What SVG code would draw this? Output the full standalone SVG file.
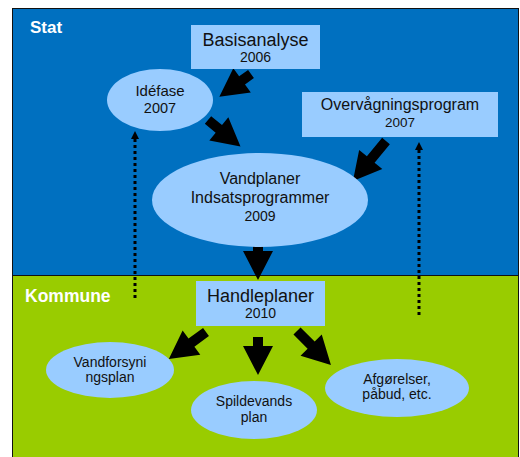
<svg xmlns="http://www.w3.org/2000/svg" width="520" height="457" viewBox="0 0 520 457">
<style>
.lb{fill:#99CCFF;stroke:none}
.t{font-family:"Liberation Sans",Arial,sans-serif;fill:#111;text-anchor:middle}
.lab{font-family:"Liberation Sans",Arial,sans-serif;fill:#fff;font-weight:bold}
.blk{fill:#000}
.dot{stroke:#000;stroke-width:3;stroke-dasharray:3 3;fill:none}
</style>
<rect width="520" height="457" fill="#fff"/>
<g id="regions">
<rect x="12.5" y="8.5" width="506" height="267" fill="#0070C0" stroke="#111" stroke-width="1"/>
<rect x="12.5" y="275.5" width="506" height="190" fill="#99CC00" stroke="#111" stroke-width="1"/>
<text class="lab" x="30" y="33" font-size="17">Stat</text>
<text class="lab" x="25" y="302" font-size="17.5">Kommune</text>
</g>
<g id="connectors">
<polygon class="blk" transform="translate(251,74) rotate(144.3)" points="0,-5 11,-5 11,-15 39,0 11,15 11,5 0,5"/>
<polygon class="blk" transform="translate(208,120) rotate(39.3)" points="0,-5 14,-5 14,-15 42,0 14,15 14,5 0,5"/>
<polygon class="blk" transform="translate(386,141) rotate(129.5)" points="0,-5 24,-5 24,-15 52,0 24,15 24,5 0,5"/>
<polygon class="blk" transform="translate(258,237) rotate(90)" points="0,-5 14,-5 14,-15 43,0 14,15 14,5 0,5"/>
<polygon class="blk" transform="translate(206,332) rotate(143.9)" points="0,-5 18,-5 18,-15 46,0 18,15 18,5 0,5"/>
<polygon class="blk" transform="translate(258,337) rotate(90)" points="0,-5 9,-5 9,-15 38,0 9,15 9,5 0,5"/>
<polygon class="blk" transform="translate(297,331) rotate(45)" points="0,-5 20,-5 20,-15 48,0 20,15 20,5 0,5"/>
<line class="dot" x1="135" y1="298" x2="135" y2="138"/>
<polygon class="blk" points="135,131 131,139 139,139"/>
<line class="dot" x1="419" y1="315" x2="419" y2="149"/>
<polygon class="blk" points="419,142 415,150 423,150"/>
</g>
<g id="basisanalyse">
<rect class="lb" x="191" y="25" width="129" height="44"/>
<text class="t" x="255.5" y="46" font-size="18">Basisanalyse</text>
<text class="t" x="255.5" y="62" font-size="14">2006</text>
</g>
<g id="idefase">
<ellipse class="lb" cx="160" cy="100" rx="53" ry="31"/>
<text class="t" x="160" y="96" font-size="15">Idéfase</text>
<text class="t" x="160" y="113" font-size="14.5">2007</text>
</g>
<g id="overvaagning">
<rect class="lb" x="302" y="92" width="196" height="45"/>
<text class="t" x="400" y="110" font-size="16">Overvågningsprogram</text>
<text class="t" x="400" y="127" font-size="13.5">2007</text>
</g>
<g id="vandplaner">
<ellipse class="lb" cx="260" cy="200" rx="108" ry="47"/>
<text class="t" x="260" y="184" font-size="16">Vandplaner</text>
<text class="t" x="260" y="203" font-size="16">Indsatsprogrammer</text>
<text class="t" x="260" y="221" font-size="14">2009</text>
</g>
<g id="handleplaner">
<rect class="lb" x="196" y="281" width="129" height="45"/>
<text class="t" x="260.5" y="302" font-size="18">Handleplaner</text>
<text class="t" x="260.5" y="318" font-size="14">2010</text>
</g>
<g id="vandforsyning">
<ellipse class="lb" cx="110" cy="370" rx="64" ry="28"/>
<text class="t" x="110" y="367" font-size="14">Vandforsyni</text>
<text class="t" x="110" y="382" font-size="14">ngsplan</text>
</g>
<g id="spildevand">
<ellipse class="lb" cx="254" cy="410" rx="63" ry="29"/>
<text class="t" x="254" y="406" font-size="14">Spildevands</text>
<text class="t" x="254" y="422" font-size="14">plan</text>
</g>
<g id="afgoerelser">
<ellipse class="lb" cx="397" cy="388" rx="72" ry="29"/>
<text class="t" x="397" y="384" font-size="14">Afgørelser,</text>
<text class="t" x="397" y="399" font-size="14">påbud, etc.</text>
</g>
</svg>
